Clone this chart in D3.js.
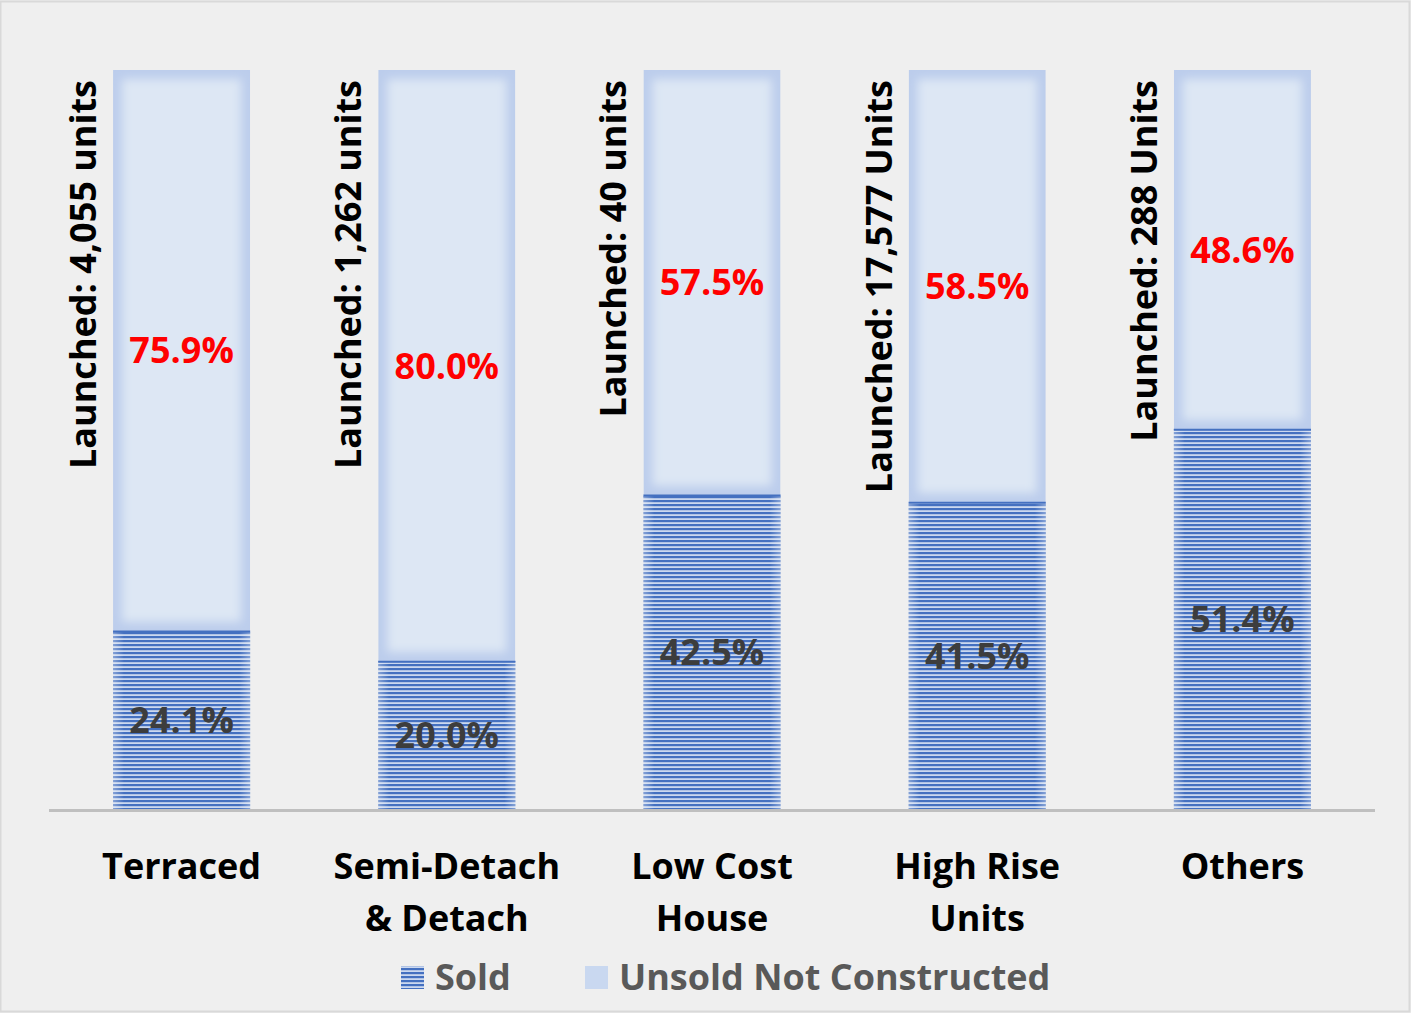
<!DOCTYPE html>
<html><head><meta charset="utf-8">
<script src="https://cdn.jsdelivr.net/npm/d3@7"></script>
<style>
html,body{margin:0;padding:0;background:#efefef;}
svg{display:block;}
text{font-family:"Open Sans",Lato,sans-serif;font-weight:bold;}
</style></head>
<body>
<svg id="chart" width="1411" height="1013"></svg>
<script>
const categories = [["Terraced"], ["Semi-Detach", "& Detach"], ["Low Cost", "House"], ["High Rise", "Units"], ["Others"]];
const launchedLabels = ["Launched: 4,055 units", "Launched: 1,262 units", "Launched: 40 units", "Launched: 17,577 Units", "Launched: 288 Units"];
const soldPct = [24.1, 20.0, 42.5, 41.5, 51.4];
const unsoldPct = [75.9, 80.0, 57.5, 58.5, 48.6];
const seriesNames = ["Sold", "Unsold Not Constructed"];

const W = 1411, H = 1013;
const svg = d3.select("#chart");
svg.append("rect").attr("x",0.5).attr("y",1.5).attr("width",W-2).attr("height",H-3)
  .attr("fill","#efefef").attr("stroke","#d9d9d9").attr("stroke-width",2);

const defs = svg.append("defs");
const pat = defs.append("pattern").attr("id","stripes").attr("patternUnits","userSpaceOnUse")
  .attr("width",8).attr("height",4);
pat.append("rect").attr("width",8).attr("height",4).attr("fill","#cbd8ef");
pat.append("rect").attr("y",0).attr("width",8).attr("height",2.2).attr("fill","#4470c0");
const blur = defs.append("filter").attr("id","soft").attr("x","-20%").attr("y","-20%").attr("width","140%").attr("height","140%");
blur.append("feGaussianBlur").attr("stdDeviation",5);
const edgeGrad = defs.append("linearGradient").attr("id","sideglow").attr("x1",0).attr("x2",1).attr("y1",0).attr("y2",0);
[[0,0.35],[0.08,0],[0.92,0],[1,0.35]].forEach(([o,a])=>edgeGrad.append("stop").attr("offset",o).attr("stop-color","#ffffff").attr("stop-opacity",a));

const keys = categories.map((c,i)=>"c"+i);
const x = d3.scaleBand().domain(keys).range([49,1375]).paddingInner(0.483).paddingOuter(0.2415);
const y = d3.scaleLinear().domain([0,100]).range([809,70]);

const data = keys.map((k,i)=>({k, i, sold: soldPct[i], unsold: unsoldPct[i]}));

data.forEach(d=>{
  defs.append("clipPath").attr("id","clipU"+d.i).append("rect")
    .attr("x",x(d.k)).attr("y",y(d.sold+d.unsold)).attr("width",x.bandwidth()).attr("height",y(d.sold)-y(d.sold+d.unsold));
});

const g = svg.append("g");
const ug = g.selectAll("g.unsold").data(data).join("g").attr("class","unsold").attr("clip-path",d=>`url(#clipU${d.i})`);
ug.append("rect").attr("x",d=>x(d.k)).attr("y",d=>y(d.sold+d.unsold)).attr("width",x.bandwidth())
  .attr("height",d=>y(d.sold)-y(d.sold+d.unsold)).attr("fill","#bccdec");
ug.append("rect").attr("x",d=>x(d.k)+9).attr("y",d=>y(d.sold+d.unsold)+9).attr("width",x.bandwidth()-18)
  .attr("height",d=>y(d.sold)-y(d.sold+d.unsold)-18).attr("fill","#dde7f4").attr("filter","url(#soft)");
g.selectAll("rect.sold").data(data).join("rect").attr("class","sold")
  .attr("x",d=>x(d.k)).attr("y",d=>y(d.sold)).attr("width",x.bandwidth()).attr("height",d=>y(0)-y(d.sold))
  .attr("fill","url(#stripes)");
g.selectAll("rect.soldglow").data(data).join("rect").attr("class","soldglow")
  .attr("x",d=>x(d.k)).attr("y",d=>y(d.sold)).attr("width",x.bandwidth()).attr("height",d=>y(0)-y(d.sold))
  .attr("fill","url(#sideglow)");
g.selectAll("line.soldtop").data(data).join("line").attr("class","soldtop")
  .attr("x1",d=>x(d.k)).attr("x2",d=>x(d.k)+x.bandwidth()).attr("y1",d=>y(d.sold)+0.5).attr("y2",d=>y(d.sold)+0.5)
  .attr("stroke","#4470c0").attr("stroke-width",2);

const ax = svg.append("g").attr("transform","translate(0,810.5)")
  .call(d3.axisBottom(x).tickSize(0).tickFormat(""));
ax.select(".domain").attr("stroke","#bfbfbf").attr("stroke-width",3).attr("d","M49,0H1375");
ax.selectAll(".tick").each(function(k,i){
  const t = d3.select(this).append("text").attr("fill","#000").attr("font-size",36)
    .attr("text-anchor","middle").attr("y",68);
  categories[i].forEach((line,j)=>t.append("tspan").attr("x",0).attr("dy",j?52:0).text(line));
});

g.selectAll("text.ulab").data(data).join("text").attr("class","ulab")
  .attr("x",d=>x(d.k)+x.bandwidth()/2).attr("y",d=>(y(d.sold)+y(d.sold+d.unsold))/2)
  .attr("dy","0.36em").attr("text-anchor","middle").attr("font-size",36).attr("fill","#ff0000")
  .text(d=>d.unsold.toFixed(1)+"%");
g.selectAll("text.slab").data(data).join("text").attr("class","slab")
  .attr("x",d=>x(d.k)+x.bandwidth()/2).attr("y",d=>(y(0)+y(d.sold))/2)
  .attr("dy","0.36em").attr("text-anchor","middle").attr("font-size",36).attr("fill","#3d3d3d")
  .text(d=>d.sold.toFixed(1)+"%");

g.selectAll("text.launch").data(data).join("text").attr("class","launch")
  .attr("transform",d=>`translate(${x(d.k)-17},80) rotate(-90)`)
  .attr("text-anchor","end").attr("font-size",36).attr("fill","#000")
  .text(d=>launchedLabels[d.i]);

const leg = svg.append("g");
const legItems = [{name:seriesNames[0], fill:"url(#stripes)", sx:401, tx:435},
                  {name:seriesNames[1], fill:"#c9d8f0", sx:585, tx:619}];
leg.selectAll("rect").data(legItems).join("rect").attr("x",d=>d.sx).attr("y",966).attr("width",23).attr("height",23)
  .attr("fill",d=>d.fill);
leg.selectAll("text").data(legItems).join("text").attr("x",d=>d.tx).attr("y",977).attr("dy","0.36em")
  .attr("font-size",36).attr("fill","#595959").text(d=>d.name);
</script>
</body></html>
